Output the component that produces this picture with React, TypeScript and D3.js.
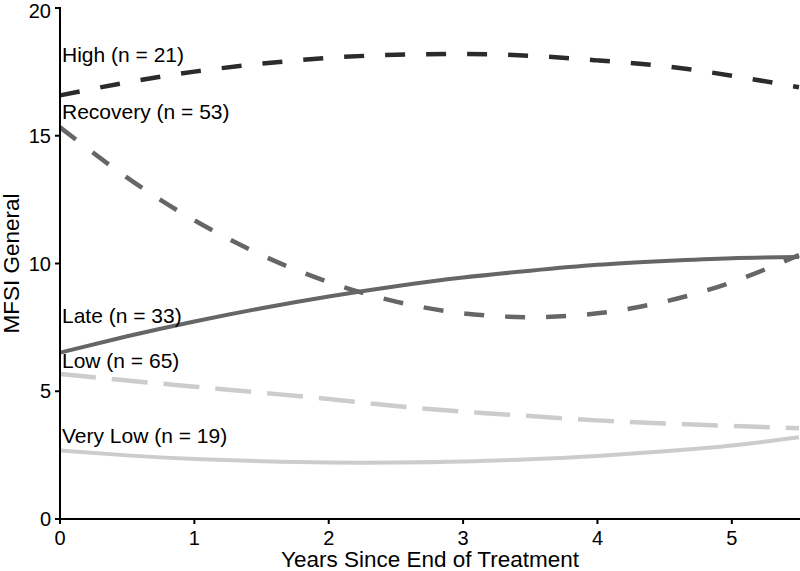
import React from "react";
import * as d3 from "d3";

const years = [0, 0.5, 1, 1.5, 2, 2.5, 3, 3.5, 4, 4.5, 5, 5.5];
const highValues = [16.58, 17.09, 17.51, 17.82, 18.05, 18.17, 18.2, 18.13, 17.95, 17.72, 17.35, 16.9];
const recoveryValues = [15.33, 13.36, 11.69, 10.33, 9.27, 8.51, 8.05, 7.9, 8.05, 8.51, 9.27, 10.33];
const lateValues = [6.51, 7.15, 7.73, 8.25, 8.71, 9.11, 9.45, 9.72, 9.95, 10.1, 10.21, 10.25];
const lowValues = [5.68, 5.42, 5.18, 4.94, 4.7, 4.42, 4.2, 4.03, 3.86, 3.74, 3.64, 3.55];
const veryLowValues = [2.68, 2.49, 2.35, 2.26, 2.21, 2.21, 2.25, 2.34, 2.47, 2.65, 2.88, 3.2];

const seriesNames = ["High (n = 21)", "Recovery (n = 53)", "Late (n = 33)", "Low (n = 65)", "Very Low (n = 19)"];
const labelYValues = [17.87, 15.67, 7.69, 5.9, 2.97];
const xTicks = [0, 1, 2, 3, 4, 5];
const yTicks = [0, 5, 10, 15, 20];

const seriesStyles = [
  { color: "#2b2b2b", dash: "20,21", width: 4.5 },
  { color: "#666666", dash: "20,21", width: 4.5 },
  { color: "#666666", dash: null, width: 4 },
  { color: "#cccccc", dash: "36,16", width: 4.5 },
  { color: "#cccccc", dash: null, width: 4 },
];

const W = 800;
const H = 571;
const left = 60;
const right = 799;
const top = 8;
const bottom = 519;

export default function App() {
  const x = d3.scaleLinear().domain([0, 5.5]).range([left, right]);
  const y = d3.scaleLinear().domain([0, 20]).range([bottom, top]);
  const allValues = [highValues, recoveryValues, lateValues, lowValues, veryLowValues];
  const line = d3
    .line<[number, number]>()
    .x((d) => x(d[0]))
    .y((d) => y(d[1]))
    .curve(d3.curveNatural);
  const font = "Arial, 'Liberation Sans', sans-serif";

  return (
    <svg
      width={W}
      height={H}
      style={{ position: "absolute", left: 0, top: 0, background: "#fff" }}
      fontFamily={font}
    >
      <rect x={0} y={0} width={W} height={H} fill="#fff" />
      {allValues.map((vals, i) => {
        const pts = years.map((yr, j) => [yr, vals[j]] as [number, number]);
        const s = seriesStyles[i];
        return (
          <path
            key={i}
            d={line(pts) || ""}
            fill="none"
            stroke={s.color}
            strokeWidth={s.width}
            strokeDasharray={s.dash || undefined}
          />
        );
      })}
      {/* axes */}
      <line x1={left} x2={left} y1={top - 1} y2={bottom + 1} stroke="#000" strokeWidth={2} />
      <line x1={left - 1} x2={W} y1={bottom} y2={bottom} stroke="#000" strokeWidth={2} />
      {yTicks.map((t) => (
        <g key={"y" + t}>
          <line x1={left - 5} x2={left} y1={y(t)} y2={y(t)} stroke="#000" strokeWidth={2} />
          <text x={left - 9} y={Math.max(y(t), 11)} dy="0.36em" textAnchor="end" fontSize={20} fill="#000">
            {t}
          </text>
        </g>
      ))}
      {xTicks.map((t) => (
        <g key={"x" + t}>
          <line x1={x(t)} x2={x(t)} y1={bottom} y2={bottom + 5} stroke="#000" strokeWidth={2} />
          <text x={x(t)} y={545} textAnchor="middle" fontSize={20} fill="#000">
            {t}
          </text>
        </g>
      ))}
      <text x={430} y={567} textAnchor="middle" fontSize={22.5} fill="#000">
        Years Since End of Treatment
      </text>
      <text
        transform={`translate(19, ${(top + bottom) / 2}) rotate(-90)`}
        textAnchor="middle"
        fontSize={22.5}
        fill="#000"
      >
        MFSI General
      </text>
      {seriesNames.map((name, i) => (
        <text key={name} x={left + 2} y={y(labelYValues[i])} fontSize={21} fill="#000">
          {name}
        </text>
      ))}
    </svg>
  );
}
